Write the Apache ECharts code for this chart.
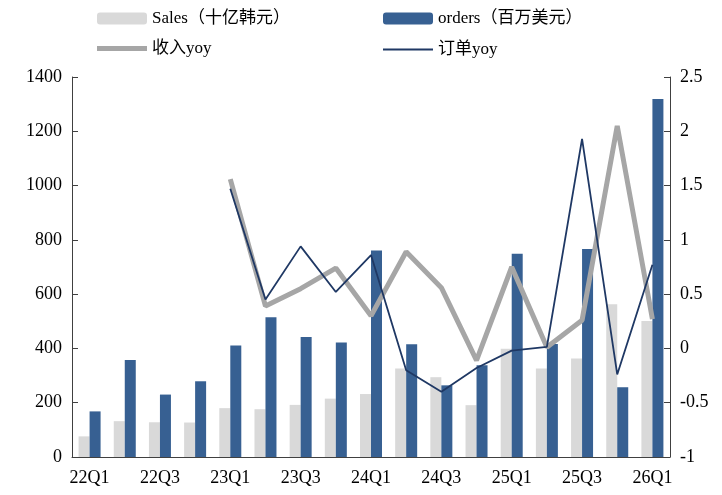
<!DOCTYPE html>
<html>
<head>
<meta charset="utf-8"/>
<title></title>
<script src="https://cdn.jsdelivr.net/npm/echarts@6/dist/echarts.min.js"></script>
</head>
<body style="margin:0;">
<div id="main" style="width:722px;height:495px;"></div>
<script type="text/javascript">
var quarters = ['22Q1','22Q2','22Q3','22Q4','23Q1','23Q2','23Q3','23Q4','24Q1','24Q2','24Q3','24Q4','25Q1','25Q2','25Q3','25Q4','26Q1'];
var sales = [76, 132, 128, 127, 180, 176, 192, 215, 232, 326, 294, 191, 399, 326, 363, 563, 501];
var orders = [168, 357, 230, 279, 411, 515, 442, 422, 761, 415, 264, 338, 749, 416, 766, 257, 1319];
var salesYoy = ['-', '-', '-', '-', 1.56, 0.39, 0.55, 0.74, 0.30, 0.89, 0.56, -0.11, 0.75, 0.01, 0.26, 2.05, 0.27];
var ordersYoy = ['-', '-', '-', '-', 1.47, 0.45, 0.94, 0.52, 0.86, -0.20, -0.40, -0.18, -0.02, 0.015, 1.93, -0.24, 0.77];

var serif = '"Liberation Serif", "Noto Sans CJK SC", serif';
var myChart = echarts.init(document.getElementById('main'));
var legendText = { fontFamily: serif, fontSize: 17, color: '#000' };
var option = {
    animation: false,
    legend: [
        { data: ['Sales（十亿韩元）'], left: 97, top: 10, padding: 0, itemWidth: 50, itemHeight: 12, itemGap: 4, textStyle: legendText },
        { data: ['orders（百万美元）'], left: 383, top: 10, padding: 0, itemWidth: 50, itemHeight: 12, itemGap: 4, textStyle: legendText },
        { data: [{ name: '收入yoy', icon: 'rect' }], left: 97, top: 40, padding: 0, itemWidth: 50, itemHeight: 5, textStyle: legendText },
        { data: [{ name: '订单yoy', icon: 'rect' }], left: 383, top: 41, padding: 0, itemWidth: 50, itemHeight: 2, textStyle: legendText }
    ],
    grid: { left: 72, right: 52, top: 77, bottom: 38 },
    xAxis: {
        type: 'category',
        data: quarters,
        axisLine: { lineStyle: { color: '#404040' } },
        axisTick: { inside: true, length: 6, lineStyle: { color: '#404040' } },
        axisLabel: { interval: 1, fontFamily: serif, fontSize: 18, color: '#000', margin: 12 }
    },
    yAxis: [
        {
            type: 'value', min: 0, max: 1400, interval: 200,
            splitLine: { show: false },
            axisLine: { show: true, lineStyle: { color: '#404040' } },
            axisTick: { show: true, inside: true, length: 6, lineStyle: { color: '#404040' } },
            axisLabel: { fontFamily: serif, fontSize: 18, color: '#000', margin: 10, formatter: function (v) { return String(v); } }
        },
        {
            type: 'value', min: -1, max: 2.5, interval: 0.5,
            splitLine: { show: false },
            axisLine: { show: true, lineStyle: { color: '#404040' } },
            axisTick: { show: true, inside: true, length: 6, lineStyle: { color: '#404040' } },
            axisLabel: { fontFamily: serif, fontSize: 18, color: '#000', margin: 10, formatter: function (v) { return String(v); } }
        }
    ],
    series: [
        {
            name: 'Sales（十亿韩元）', type: 'bar', data: sales,
            barWidth: 11, barGap: '0%',
            itemStyle: { color: '#d9d9d9' }
        },
        {
            name: 'orders（百万美元）', type: 'bar', data: orders,
            barWidth: 11, barGap: '0%',
            itemStyle: { color: '#376092' }
        },
        {
            name: '收入yoy', type: 'line', yAxisIndex: 1, data: salesYoy,
            symbol: 'none', lineStyle: { color: '#a6a6a6', width: 5 },
            itemStyle: { color: '#a6a6a6' }
        },
        {
            name: '订单yoy', type: 'line', yAxisIndex: 1, data: ordersYoy,
            symbol: 'none', lineStyle: { color: '#1f3864', width: 1.8 },
            itemStyle: { color: '#1f3864' }
        }
    ]
};
myChart.setOption(option);
</script>
</body>
</html>
